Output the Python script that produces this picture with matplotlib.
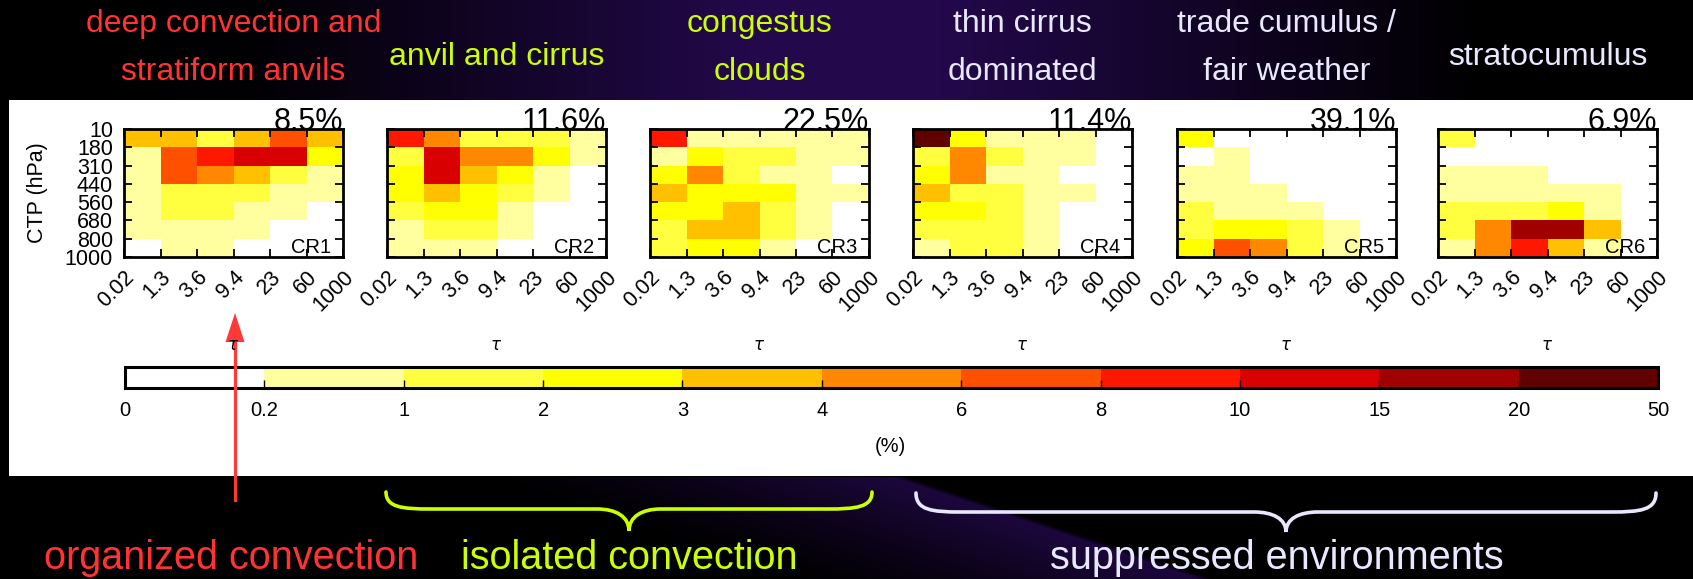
import numpy as np
import matplotlib
matplotlib.use("Agg")
import matplotlib.pyplot as plt
import matplotlib.cm as cm
from matplotlib.colors import ListedColormap, BoundaryNorm
from matplotlib.patches import Rectangle, PathPatch, Polygon
from matplotlib.path import Path
from matplotlib.lines import Line2D

# ---------------------------------------------------------------- data
tau_labels = ["0.02", "1.3", "3.6", "9.4", "23", "60", "1000"]
ctp_labels = ["10", "180", "310", "440", "560", "680", "800", "1000"]

level_bounds = [0, 0.2, 1, 2, 3, 4, 6, 8, 10, 15, 20, 50]
level_labels = ["0", "0.2", "1", "2", "3", "4", "6", "8", "10", "15", "20", "50"]
level_colors = ["#FFFFFF", "#FFFFA0", "#FFFF40", "#FFFF00", "#FFC000", "#FF8800",
                "#FF5000", "#FF1800", "#D80000", "#A00000", "#600000"]

regime_names = ["CR1", "CR2", "CR3", "CR4", "CR5", "CR6"]
regime_freq = ["8.5%", "11.6%", "22.5%", "11.4%", "39.1%", "6.9%"]

# joint histograms (%), rows: CTP 10-180 ... 800-1000 hPa, cols: tau bins
cr1 = [[3.3, 3.6, 1.5, 3.4, 6.8, 3.2],
       [0.6, 6.5, 8.7, 11.8, 11.2, 2.6],
       [0.5, 6.2, 4.9, 3.5, 1.6, 0.7],
       [0.4, 1.5, 1.7, 1.4, 0.8, 0.5],
       [0.4, 1.3, 1.2, 0.8, 0.5, 0.1],
       [0.3, 0.6, 0.7, 0.5, 0.1, 0.0],
       [0.1, 0.4, 0.4, 0.1, 0.0, 0.0]]
cr2 = [[8.6, 4.7, 1.6, 1.3, 1.2, 0.6],
       [1.5, 13.5, 5.2, 4.6, 2.3, 0.5],
       [2.4, 12.1, 3.3, 2.2, 0.6, 0.1],
       [2.2, 3.4, 2.5, 1.6, 0.4, 0.1],
       [1.7, 2.3, 2.1, 0.7, 0.1, 0.0],
       [0.8, 1.4, 1.3, 0.5, 0.1, 0.0],
       [0.6, 0.7, 0.5, 0.1, 0.0, 0.0]]
cr3 = [[8.4, 0.5, 0.6, 0.6, 0.5, 0.3],
       [0.7, 2.3, 1.7, 1.5, 0.8, 0.4],
       [2.2, 4.6, 1.4, 0.9, 0.6, 0.1],
       [3.2, 2.6, 2.4, 2.1, 0.9, 0.4],
       [2.5, 2.7, 3.1, 1.6, 0.8, 0.1],
       [1.8, 3.4, 3.3, 1.5, 0.7, 0.1],
       [1.6, 2.4, 2.2, 0.7, 0.1, 0.0]]
cr4 = [[27.0, 2.6, 0.9, 0.7, 0.5, 0.1],
       [1.8, 5.3, 1.6, 0.8, 0.4, 0.1],
       [2.3, 5.1, 0.9, 0.6, 0.1, 0.0],
       [3.3, 1.8, 1.5, 0.7, 0.3, 0.1],
       [2.4, 2.1, 1.4, 0.6, 0.1, 0.0],
       [1.7, 1.6, 1.5, 0.5, 0.1, 0.0],
       [0.8, 1.5, 1.3, 0.4, 0.1, 0.0]]
cr5 = [[2.2, 0.1, 0.0, 0.0, 0.0, 0.0],
       [0.1, 0.4, 0.1, 0.0, 0.0, 0.0],
       [0.5, 0.6, 0.1, 0.0, 0.0, 0.0],
       [0.7, 0.8, 0.4, 0.1, 0.0, 0.0],
       [1.3, 0.9, 0.8, 0.4, 0.1, 0.0],
       [1.6, 2.6, 2.4, 1.5, 0.6, 0.1],
       [2.5, 7.5, 5.2, 1.8, 0.8, 0.1]]
cr6 = [[1.2, 0.1, 0.0, 0.0, 0.0, 0.0],
       [0.1, 0.1, 0.1, 0.0, 0.0, 0.0],
       [0.4, 0.5, 0.4, 0.1, 0.0, 0.0],
       [0.6, 0.8, 0.8, 0.6, 0.4, 0.1],
       [1.3, 1.6, 1.8, 2.4, 0.9, 0.1],
       [1.4, 5.3, 16.5, 17.2, 3.6, 0.1],
       [0.5, 4.9, 9.2, 3.3, 0.7, 0.0]]
histograms = [cr1, cr2, cr3, cr4, cr5, cr6]

regime_titles = [["deep convection and", "stratiform anvils"],
                 ["anvil and cirrus"],
                 ["congestus", "clouds"],
                 ["thin cirrus", "dominated"],
                 ["trade cumulus /", "fair weather"],
                 ["stratocumulus"]]
RED, LIME, PALE = "#FF3333", "#CCFF00", "#EAE8FF"
title_colors = [RED, LIME, LIME, PALE, PALE, PALE]

groups = ["organized convection", "isolated convection", "suppressed environments"]

# ---------------------------------------------------------------- figure
W, H, DPI = 1693, 579, 100
plt.rcParams['font.family'] = ['Liberation Sans', 'DejaVu Sans']
fig = plt.figure(figsize=(W / DPI, H / DPI), dpi=DPI)
fig.patch.set_facecolor("black")


def fx(x):
    return x / W


def fy(y):
    return 1 - y / H


def box(x0, y0, x1, y1):
    return [fx(x0), fy(y1), (x1 - x0) / W, (y1 - y0) / H]


# dark slide background with a purple glow
bg = fig.add_axes([0, 0, 1, 1], zorder=-10)
xx = np.arange(W)[None, :].astype(float)
yy = np.arange(H)[:, None].astype(float)
top_glow = np.interp(np.arange(W), [0, 250, 760, 930, 1480, W], [0, 0.04, 1, 1, 0, 0])[None, :]
u = xx - 3.0 * (yy - 476)
band = np.clip((u - 470) / 420, 0, 1) ** 1.3 * np.clip((905 - u) / 15, 0, 1) * 0.8
glow = np.where(yy < 100, top_glow, np.where(yy > 476, band, 0.0))
peak = np.array([0.14, 0.035, 0.30])
bg.imshow(glow[..., None] * peak[None, None, :], extent=[0, W, H, 0],
          aspect="auto", interpolation="bilinear")
bg.set_xlim(0, W)
bg.set_ylim(H, 0)
bg.axis("off")

# white panel holding the histograms
fig.add_artist(Rectangle((fx(9), fy(476)), (W - 9) / W, (476 - 100) / H,
                         transform=fig.transFigure, facecolor="white",
                         edgecolor="none", zorder=-5))

cmap = ListedColormap(level_colors)
norm = BoundaryNorm(level_bounds, cmap.N)

panel_left = [124, 387, 650, 913, 1177, 1438]
panel_w = 219
panel_top, panel_bot = 129, 257

for i, (hist, name, freq) in enumerate(zip(histograms, regime_names, regime_freq)):
    x0 = panel_left[i]
    ax = fig.add_axes(box(x0, panel_top, x0 + panel_w, panel_bot))
    data = np.array(hist)
    ax.pcolormesh(np.arange(data.shape[1] + 1), np.arange(data.shape[0] + 1), data,
                  cmap=cmap, norm=norm, edgecolors="none", antialiased=False)
    ax.set_xlim(0, data.shape[1])
    ax.set_ylim(data.shape[0], 0)
    ax.set_xticks(range(len(tau_labels)))
    ax.set_xticklabels(tau_labels, rotation=45, ha="right", va="top",
                       rotation_mode="anchor", fontsize=15.5)
    ax.set_yticks(range(len(ctp_labels)))
    if i == 0:
        ax.set_yticklabels(ctp_labels, fontsize=15.5)
    else:
        ax.set_yticklabels([])
    ax.tick_params(axis="both", direction="in", length=6, width=1.3,
                   top=True, right=True)
    ax.tick_params(axis="x", pad=7)
    ax.tick_params(axis="y", pad=8)
    for sp in ax.spines.values():
        sp.set_linewidth(2)
    ax.text(1.0, 0.995, freq, transform=ax.transAxes, ha="right", va="baseline",
            fontsize=22)
    ax.text(0.945, 0.03, name, transform=ax.transAxes, ha="right", va="baseline",
            fontsize=14.5)
    cx = x0 + panel_w / 2
    fig.text(fx(cx), fy(346), r"$\tau$", ha="center", va="center", fontsize=12)

    lines = regime_titles[i]
    baselines = [32, 80] if len(lines) == 2 else [65]
    for line, yb in zip(lines, baselines):
        fig.text(fx(cx), fy(yb), line, ha="center", va="baseline", fontsize=23,
                 color=title_colors[i])

fig.text(fx(37), fy(193), "CTP (hPa)", rotation=90, ha="center", va="center",
         fontsize=15.5)

# discrete colour scale
cax = fig.add_axes(box(125, 367, 1658, 388))
cb = fig.colorbar(cm.ScalarMappable(norm=norm, cmap=cmap), cax=cax,
                  orientation="horizontal", spacing="uniform", ticks=level_bounds)
cb.set_ticklabels(level_labels)
cb.minorticks_off()
cax.tick_params(direction="in", length=6, width=1, labelsize=14.5, pad=9)
cb.outline.set_linewidth(2.2)
fig.text(fx(890), fy(447), "(%)", ha="center", va="center", fontsize=14.5)

# arrow to the organized-convection regime
arrow_col = "#FF3838"
fig.add_artist(Line2D([fx(235), fx(235)], [fy(500), fy(338)], color=arrow_col,
                      linewidth=2.3, transform=fig.transFigure))
fig.add_artist(Polygon([(fx(235), fy(313)), (fx(225.5), fy(342)), (fx(244.5), fy(342))],
                       closed=True, facecolor=arrow_col, edgecolor="none",
                       transform=fig.transFigure))


def brace(x0, x1, xm, y0, y1, y2, color, r=45, t=32):
    pts = [(x0, y0),
           (x0, y0 + 0.9 * (y1 - y0)), (x0 + 0.35 * r, y1), (x0 + r, y1),
           (xm - t, y1),
           (xm - 0.4 * t, y1), (xm, y1 + 0.35 * (y2 - y1)), (xm, y2),
           (xm, y1 + 0.35 * (y2 - y1)), (xm + 0.4 * t, y1), (xm + t, y1),
           (x1 - r, y1),
           (x1 - 0.35 * r, y1), (x1, y0 + 0.9 * (y1 - y0)), (x1, y0)]
    codes = [Path.MOVETO,
             Path.CURVE4, Path.CURVE4, Path.CURVE4,
             Path.LINETO,
             Path.CURVE4, Path.CURVE4, Path.CURVE4,
             Path.CURVE4, Path.CURVE4, Path.CURVE4,
             Path.LINETO,
             Path.CURVE4, Path.CURVE4, Path.CURVE4]
    verts = [(fx(a), fy(b)) for a, b in pts]
    fig.add_artist(PathPatch(Path(verts, codes), facecolor="none", edgecolor=color,
                             linewidth=2.6, capstyle="round",
                             transform=fig.transFigure))


brace(386, 872, 629, 492, 509, 531, LIME)
brace(916, 1656, 1286, 493, 512, 532, PALE)

group_x = [231, 629, 1277]
group_colors = [RED, LIME, PALE]
for label, gx, gc in zip(groups, group_x, group_colors):
    fig.text(fx(gx), fy(569), label, ha="center", va="baseline", fontsize=28.5,
             color=gc)

fig.savefig("out.png", dpi=DPI, facecolor=fig.get_facecolor())
